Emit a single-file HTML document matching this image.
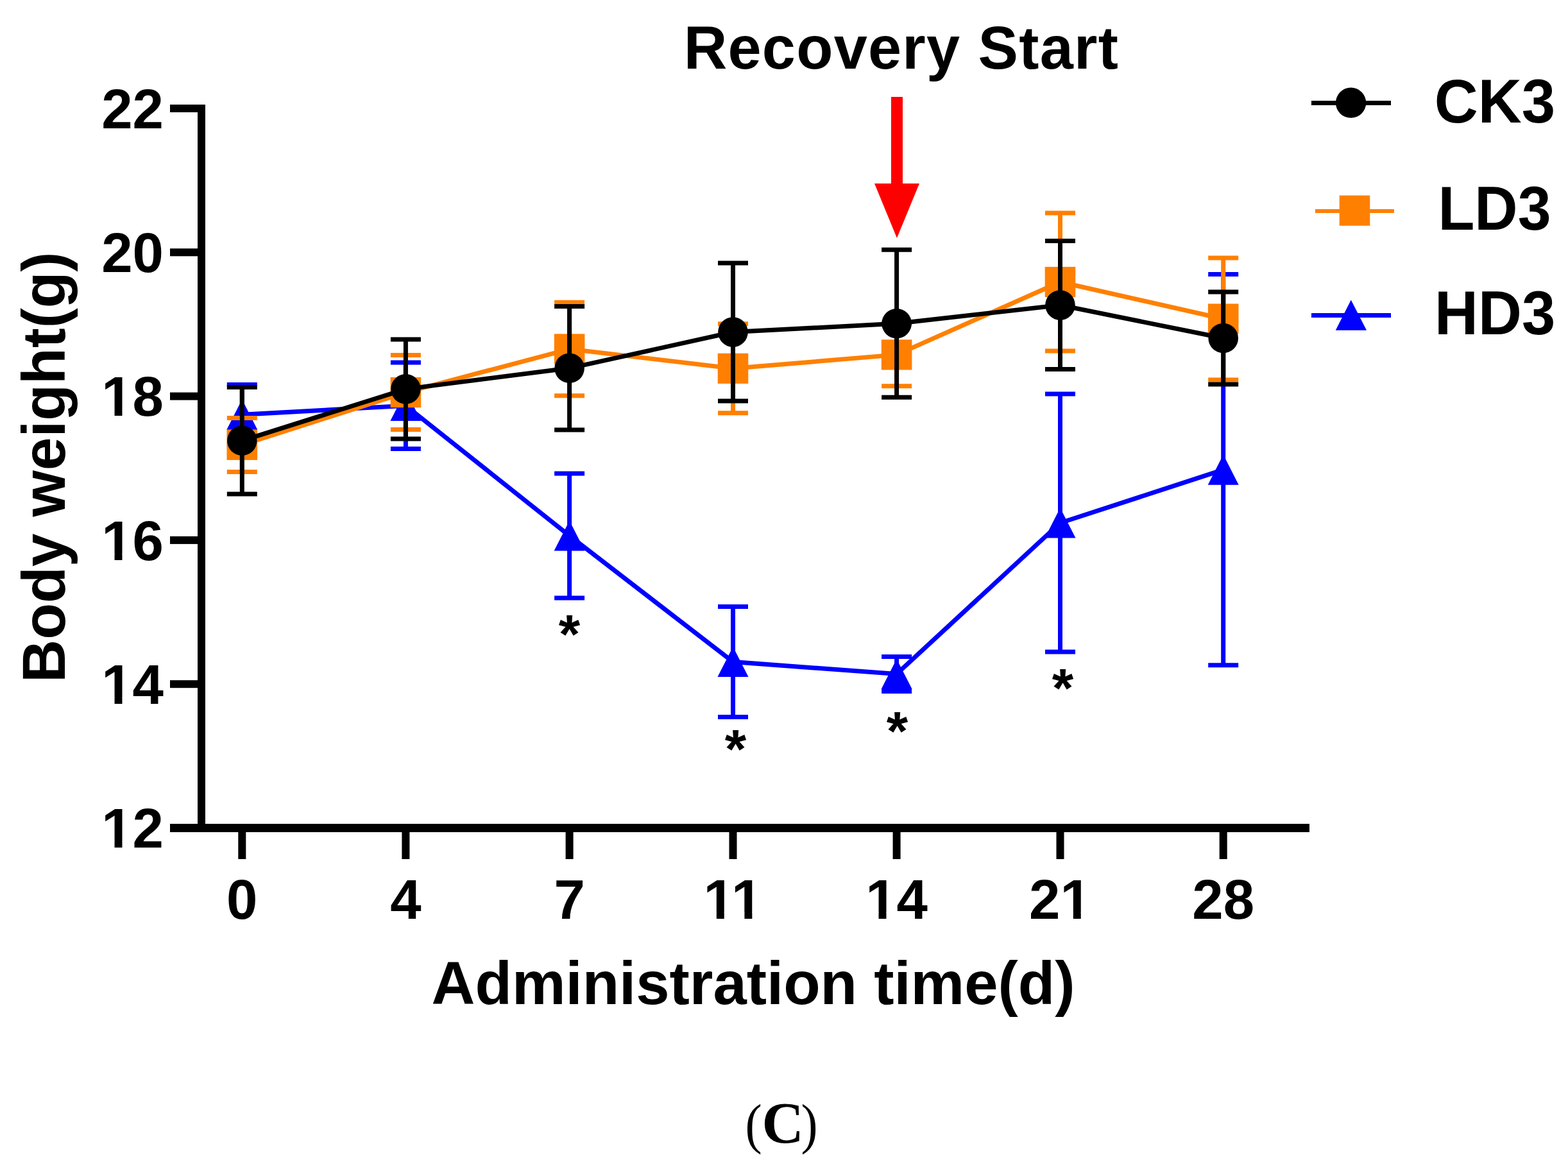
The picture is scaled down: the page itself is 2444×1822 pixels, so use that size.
<!DOCTYPE html>
<html><head><meta charset="utf-8"><title>Body weight chart</title>
<style>
html,body{margin:0;padding:0;background:#fff;}
body{width:2444px;height:1822px;overflow:hidden;}
svg{display:block;}
.t{font-family:"Liberation Sans",Arial,sans-serif;font-weight:bold;fill:#000;}
.s{font-family:"Liberation Serif","Times New Roman",serif;fill:#000;}
</style></head><body>
<svg width="2444" height="1822" viewBox="0 0 2444 1822">
<rect width="2444" height="1822" fill="#fff"/>
<rect x="308" y="163" width="12" height="1134" fill="#000"/>
<rect x="265" y="163" width="55" height="12" fill="#000"/>
<rect x="265" y="387.3" width="55" height="12" fill="#000"/>
<rect x="265" y="611.6" width="55" height="12" fill="#000"/>
<rect x="265" y="835.9" width="55" height="12" fill="#000"/>
<rect x="265" y="1060.2" width="55" height="12" fill="#000"/>
<rect x="265" y="1284.5" width="55" height="12" fill="#000"/>
<rect x="265" y="1284" width="1776" height="13" fill="#000"/>
<rect x="371.3" y="1290" width="12" height="49" fill="#000"/>
<rect x="626.4" y="1290" width="12" height="49" fill="#000"/>
<rect x="881.6" y="1290" width="12" height="49" fill="#000"/>
<rect x="1136.5" y="1290" width="12" height="49" fill="#000"/>
<rect x="1391.6" y="1290" width="12" height="49" fill="#000"/>
<rect x="1646.5" y="1290" width="12" height="49" fill="#000"/>
<rect x="1900.7" y="1290" width="12" height="49" fill="#000"/>
<text class="t" x="255" y="199.7" font-size="87" text-anchor="end">22</text>
<text class="t" x="255" y="424.0" font-size="87" text-anchor="end">20</text>
<text class="t" x="255" y="648.3" font-size="87" text-anchor="end">18</text>
<rect x="162.91" y="638.52" width="15.63" height="10.88" fill="#fff"/>
<rect x="190.47" y="638.52" width="14.52" height="10.88" fill="#fff"/>
<text class="t" x="255" y="872.6" font-size="87" text-anchor="end">16</text>
<rect x="162.91" y="862.82" width="15.63" height="10.88" fill="#fff"/>
<rect x="190.47" y="862.82" width="14.52" height="10.88" fill="#fff"/>
<text class="t" x="255" y="1096.9" font-size="87" text-anchor="end">14</text>
<rect x="162.91" y="1087.12" width="15.63" height="10.88" fill="#fff"/>
<rect x="190.47" y="1087.12" width="14.52" height="10.88" fill="#fff"/>
<text class="t" x="255" y="1321.2" font-size="87" text-anchor="end">12</text>
<rect x="162.91" y="1311.42" width="15.63" height="10.88" fill="#fff"/>
<rect x="190.47" y="1311.42" width="14.52" height="10.88" fill="#fff"/>
<text class="t" x="377.3" y="1432" font-size="87" text-anchor="middle">0</text>
<text class="t" x="632.4" y="1432" font-size="87" text-anchor="middle">4</text>
<text class="t" x="887.6" y="1432" font-size="87" text-anchor="middle">7</text>
<text class="t" x="1142.5" y="1432" font-size="87" text-anchor="middle">11</text>
<rect x="1101.19" y="1422.22" width="15.63" height="10.88" fill="#fff"/>
<rect x="1128.76" y="1422.22" width="14.52" height="10.88" fill="#fff"/>
<rect x="1144.78" y="1422.22" width="15.63" height="10.88" fill="#fff"/>
<rect x="1172.34" y="1422.22" width="14.52" height="10.88" fill="#fff"/>
<text class="t" x="1397.6" y="1432" font-size="87" text-anchor="middle">14</text>
<rect x="1353.89" y="1422.22" width="15.63" height="10.88" fill="#fff"/>
<rect x="1381.46" y="1422.22" width="14.52" height="10.88" fill="#fff"/>
<text class="t" x="1652.5" y="1432" font-size="87" text-anchor="middle">21</text>
<rect x="1657.18" y="1422.22" width="15.63" height="10.88" fill="#fff"/>
<rect x="1684.74" y="1422.22" width="14.52" height="10.88" fill="#fff"/>
<text class="t" x="1906.7" y="1432" font-size="87" text-anchor="middle">28</text>
<path d="M377.3 599.50V692.90M353.80 599.50H400.80M353.80 692.90H400.80" stroke="#0000FF" stroke-width="7" fill="none"/>
<path d="M632.4 565.00V699.60M608.90 565.00H655.90M608.90 699.60H655.90" stroke="#0000FF" stroke-width="7" fill="none"/>
<path d="M887.6 738.00V932.00M864.10 738.00H911.10M864.10 932.00H911.10" stroke="#0000FF" stroke-width="7" fill="none"/>
<path d="M1142.5 945.50V1117.50M1119.00 945.50H1166.00M1119.00 1117.50H1166.00" stroke="#0000FF" stroke-width="7" fill="none"/>
<path d="M1397.6 1023.50V1077.50M1374.10 1023.50H1421.10M1374.10 1077.50H1421.10" stroke="#0000FF" stroke-width="7" fill="none"/>
<path d="M1652.5 614.00V1016.00M1629.00 614.00H1676.00M1629.00 1016.00H1676.00" stroke="#0000FF" stroke-width="7" fill="none"/>
<path d="M1906.7 427.60V1036.80M1883.20 427.60H1930.20M1883.20 1036.80H1930.20" stroke="#0000FF" stroke-width="7" fill="none"/>
<polyline points="377.3,646.2 632.4,632.3 887.6,835 1142.5,1031.5 1397.6,1050.5 1652.5,815 1906.7,732.2" stroke="#0000FF" stroke-width="7" fill="none" stroke-linejoin="miter"/>
<path d="M377.3 622.60L401.30 669.80L353.30 669.80Z" fill="#0000FF"/>
<path d="M632.4 608.70L656.40 655.90L608.40 655.90Z" fill="#0000FF"/>
<path d="M887.6 811.40L911.60 858.60L863.60 858.60Z" fill="#0000FF"/>
<path d="M1142.5 1007.90L1166.50 1055.10L1118.50 1055.10Z" fill="#0000FF"/>
<path d="M1397.6 1026.90L1421.60 1074.10L1373.60 1074.10Z" fill="#0000FF"/>
<path d="M1652.5 791.40L1676.50 838.60L1628.50 838.60Z" fill="#0000FF"/>
<path d="M1906.7 708.60L1930.70 755.80L1882.70 755.80Z" fill="#0000FF"/>
<path d="M377.3 651.40V735.40M353.80 651.40H400.80M353.80 735.40H400.80" stroke="#FF8000" stroke-width="7" fill="none"/>
<path d="M632.4 553.60V669.60M608.90 553.60H655.90M608.90 669.60H655.90" stroke="#FF8000" stroke-width="7" fill="none"/>
<path d="M887.6 471.30V616.70M864.10 471.30H911.10M864.10 616.70H911.10" stroke="#FF8000" stroke-width="7" fill="none"/>
<path d="M1142.5 504.80V643.80M1119.00 504.80H1166.00M1119.00 643.80H1166.00" stroke="#FF8000" stroke-width="7" fill="none"/>
<path d="M1397.6 504.10V601.70M1374.10 504.10H1421.10M1374.10 601.70H1421.10" stroke="#FF8000" stroke-width="7" fill="none"/>
<path d="M1652.5 332.10V546.90M1629.00 332.10H1676.00M1629.00 546.90H1676.00" stroke="#FF8000" stroke-width="7" fill="none"/>
<path d="M1906.7 402.00V592.00M1883.20 402.00H1930.20M1883.20 592.00H1930.20" stroke="#FF8000" stroke-width="7" fill="none"/>
<polyline points="377.3,693.4 632.4,611.6 887.6,544.0 1142.5,574.3 1397.6,552.9 1652.5,439.5 1906.7,497" stroke="#FF8000" stroke-width="7" fill="none" stroke-linejoin="miter"/>
<rect x="353.50" y="669.80" width="47.6" height="47.2" fill="#FF8000"/>
<rect x="608.60" y="588.00" width="47.6" height="47.2" fill="#FF8000"/>
<rect x="863.80" y="520.40" width="47.6" height="47.2" fill="#FF8000"/>
<rect x="1118.70" y="550.70" width="47.6" height="47.2" fill="#FF8000"/>
<rect x="1373.80" y="529.30" width="47.6" height="47.2" fill="#FF8000"/>
<rect x="1628.70" y="415.90" width="47.6" height="47.2" fill="#FF8000"/>
<rect x="1882.90" y="473.40" width="47.6" height="47.2" fill="#FF8000"/>
<path d="M377.3 603.60V770.00M353.80 603.60H400.80M353.80 770.00H400.80" stroke="#000000" stroke-width="7" fill="none"/>
<path d="M632.4 528.90V683.90M608.90 528.90H655.90M608.90 683.90H655.90" stroke="#000000" stroke-width="7" fill="none"/>
<path d="M887.6 477.50V670.10M864.10 477.50H911.10M864.10 670.10H911.10" stroke="#000000" stroke-width="7" fill="none"/>
<path d="M1142.5 410.10V625.10M1119.00 410.10H1166.00M1119.00 625.10H1166.00" stroke="#000000" stroke-width="7" fill="none"/>
<path d="M1397.6 389.20V619.20M1374.10 389.20H1421.10M1374.10 619.20H1421.10" stroke="#000000" stroke-width="7" fill="none"/>
<path d="M1652.5 375.60V575.60M1629.00 375.60H1676.00M1629.00 575.60H1676.00" stroke="#000000" stroke-width="7" fill="none"/>
<path d="M1906.7 455.00V599.00M1883.20 455.00H1930.20M1883.20 599.00H1930.20" stroke="#000000" stroke-width="7" fill="none"/>
<polyline points="377.3,686.8 632.4,606.4 887.6,573.8 1142.5,517.6 1397.6,504.2 1652.5,475.6 1906.7,527" stroke="#000000" stroke-width="7" fill="none" stroke-linejoin="miter"/>
<circle cx="377.3" cy="686.8" r="23.3" fill="#000000"/>
<circle cx="632.4" cy="606.4" r="23.3" fill="#000000"/>
<circle cx="887.6" cy="573.8" r="23.3" fill="#000000"/>
<circle cx="1142.5" cy="517.6" r="23.3" fill="#000000"/>
<circle cx="1397.6" cy="504.2" r="23.3" fill="#000000"/>
<circle cx="1652.5" cy="475.6" r="23.3" fill="#000000"/>
<circle cx="1906.7" cy="527" r="23.3" fill="#000000"/>
<text class="t" x="887.6" y="1018.2" font-size="86" text-anchor="middle">*</text>
<text class="t" x="1146.5" y="1197.0" font-size="86" text-anchor="middle">*</text>
<text class="t" x="1398.5" y="1169.0" font-size="86" text-anchor="middle">*</text>
<text class="t" x="1656.5" y="1102.2" font-size="86" text-anchor="middle">*</text>
<path d="M1389 151H1407V286H1433L1398 371L1363 286H1389Z" fill="#FF0000"/>
<rect x="2044" y="157" width="124" height="7" fill="#000000"/>
<circle cx="2105.6" cy="160.2" r="23.65" fill="#000000"/>
<rect x="2050" y="326" width="123" height="6" fill="#FF8000"/>
<rect x="2087.70" y="304.60" width="47.6" height="47.2" fill="#FF8000"/>
<rect x="2044" y="488" width="124" height="7" fill="#0000FF"/>
<path d="M2105.8 467.5L2130 514.7L2081.8 514.7Z" fill="#0000FF"/>
<text class="t" transform="translate(2235.84,190.60) scale(1,1.0281)" font-size="94.16">CK3</text>
<text class="t" transform="translate(2241.47,358.40) scale(1,1.0391)" font-size="93.16">LD3</text>
<text class="t" transform="translate(2236.11,521.30) scale(1,1.0250)" font-size="94.02">HD3</text>
<text class="t" transform="translate(1065.63,107.1) scale(1,1.015)" font-size="93.7" letter-spacing="1.229">Recovery Start</text>
<text class="t" transform="translate(672.56,1564.80) scale(1,1.0000)" font-size="94.04">Administration time(d)</text>
<text class="t" transform="translate(101.00,1063.92) rotate(-90) scale(1,1.0200)" font-size="93.00">Body weight(g)</text>
<text class="s" transform="translate(1161.44,1780.66) scale(0.9131,1)" font-size="86.13">(</text>
<text class="s" font-weight="bold" transform="translate(1187.58,1781.01) scale(0.9960,1)" font-size="90.79">C</text>
<text class="s" transform="translate(1248.58,1780.66) scale(0.9086,1)" font-size="86.13">)</text>
</svg>
</body></html>
